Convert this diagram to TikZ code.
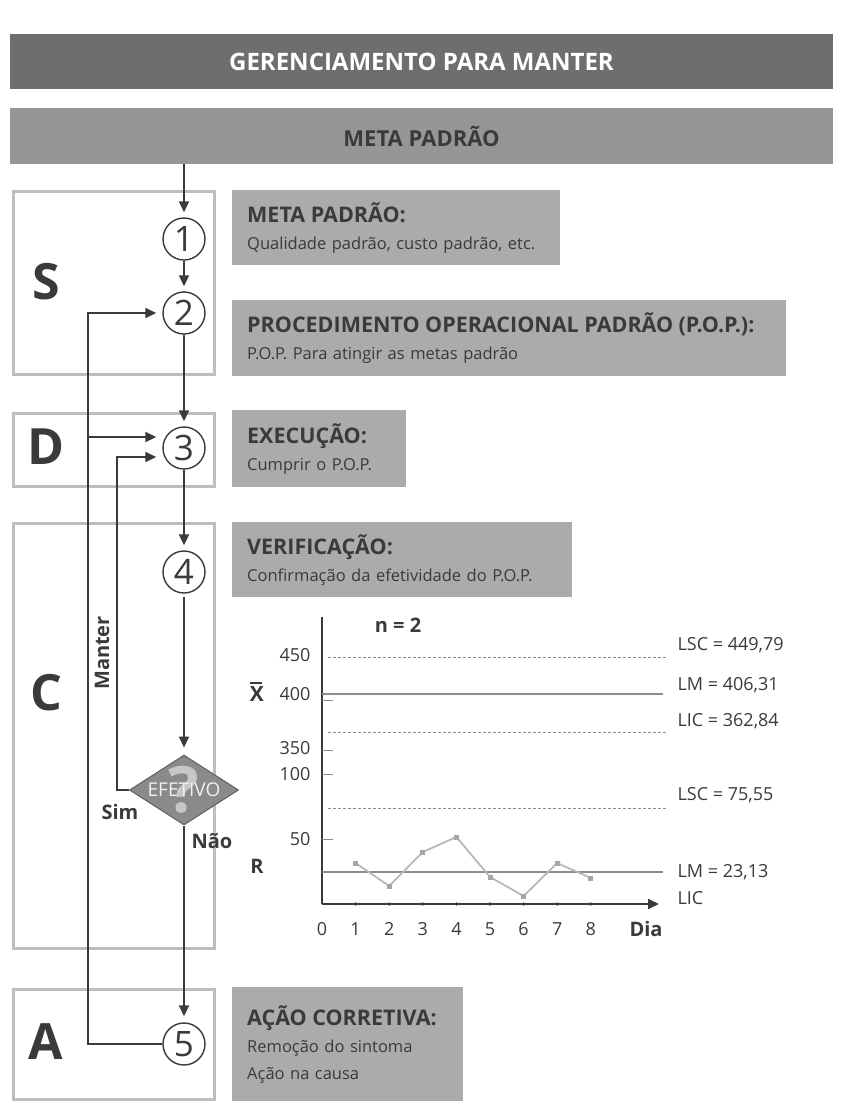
\documentclass[tikz,border=0pt]{standalone}
\usepackage{fontspec}
\setmainfont{Open Sans}
\usetikzlibrary{positioning,arrows.meta,shapes.geometric}
\definecolor{barDark}{HTML}{6E6E6E}
\definecolor{barMid}{HTML}{969696}
\definecolor{infoGray}{HTML}{ABABAB}
\definecolor{diamGray}{HTML}{8A8A8A}
\definecolor{inkDark}{HTML}{3A3A3A}
\definecolor{frameGray}{HTML}{BEBEBE}
\definecolor{limGray}{HTML}{8C8C8C}
\definecolor{dataGray}{HTML}{B8B8B8}
\newcommand{\fsz}[2]{\fontsize{#1}{#2}\selectfont}
\newcommand{\boxhead}[1]{{\bfseries\fsz{21.5}{27}#1}}

\begin{document}
\begin{tikzpicture}[x=1pt,y=-1pt,>={Triangle[length=11pt,width=10pt]},
  flow/.style={draw=inkDark,line width=1.7pt},
  numcirc/.style={circle,draw=inkDark,line width=1.4pt,fill=white,
    minimum size=42pt,inner sep=0pt,text=inkDark,font=\fsz{35}{35}},
  phasebox/.style={draw=frameGray,line width=2.5pt,anchor=north west,
    minimum width=201pt,inner sep=0pt},
  phaseltr/.style={text=inkDark,font=\bfseries\fsz{50}{50}},
  infobox/.style={fill=infoGray,anchor=north west,inner xsep=15pt,
    inner ysep=0pt,align=left,text=inkDark,font=\fsz{16.5}{27}},
  chartlbl/.style={text=inkDark,font=\fsz{18}{18}},
  boldlbl/.style={text=inkDark,font=\bfseries\fsz{20}{20}},
  limdash/.style={draw=limGray,line width=1pt,dash pattern=on 2.5pt off 2.5pt},
  limline/.style={draw=limGray,line width=1.3pt}]
\useasboundingbox (0,0) rectangle (841,1101);
% header bars
\node[fill=barDark,minimum width=823pt,minimum height=55pt,inner sep=0pt,
  text=white,font=\bfseries\fsz{24}{24}] (title) at (421.5,61.5)
  {GERENCIAMENTO PARA MANTER};
\node[fill=barMid,minimum width=823pt,minimum height=56pt,inner sep=0pt,
  text=inkDark,font=\bfseries\fsz{22}{22}] (meta) at (421.5,136)
  {META PADRÃO};
% PDCA phase frames
\node[phasebox,minimum height=183pt] (S) at (12,190) {};
\node[phasebox,minimum height=73pt] (D) at (12,412) {};
\node[phasebox,minimum height=425pt] (C) at (12,522) {};
\node[phasebox,minimum height=110pt] (A) at (12,988) {};
\foreach \ph/\yy in {S/282,D/447,C/693,A/1042}
  \node[phaseltr] (l\ph) at (46,\yy) {\ph};
% steps
\foreach \n/\yy in {1/239,2/313,3/448,4/572,5/1044}
  \node[numcirc] (c\n) at (184,\yy) {\n};
\node[diamond,fill=diamGray,draw=inkDark!80,line width=1pt,
  minimum width=109pt,minimum height=70pt,inner sep=0pt] (ef) at (184,790) {};
\node[text=white!94!black,font=\fsz{19}{19}] (eft) at (184,790)
  {\makebox[0pt]{\raisebox{-16pt}[0pt][0pt]{\color{white!78!black}%
    \bfseries\fsz{64}{64}?}}\makebox[0pt]{EFETIVO}};
% main flow
\draw[flow,->,shorten >=5pt] (meta.south -| c1) -- (c1);
\draw[flow,->,shorten >=5pt] (c1) -- (c2);
\draw[flow,->,shorten >=5pt] (c2) -- (c3);
\draw[flow,->,shorten >=5pt] (c3) -- (c4);
\draw[flow,->,shorten >=7pt,shorten <=3pt] (c4) -- (ef);
\draw[flow,->,shorten >=6pt] (ef) -- (c5);
\node[boldlbl] (nao) at (212,841) {Não};
% corrective action goes back to the standard
\coordinate (ret) at (88,313);
\coordinate (dgo) at (88,437);
\draw[flow,->,shorten >=6pt] (c5) -- (c5 -| ret) -- (ret) -- (c2);
\draw[flow,->,shorten >=6pt] (dgo) -- (dgo -| c3.west);
% effective: keep doing
\coordinate (man) at (117,457);
\draw[flow,->,shorten >=6pt] (ef.west) -- (ef.west -| man) -- (man)
  -- (man -| c3.west);
\node[boldlbl,rotate=90] (manter) at (102,653) {Manter};
\node[boldlbl] (sim) at (120,812) {Sim};
% description boxes
\node[infobox,text width=298pt,minimum height=75pt] (i1) at (232,190)
  {\boxhead{META PADRÃO:}\\Qualidade padrão, custo padrão, etc.};
\node[infobox,text width=524pt,minimum height=76pt] (i2) at (232,300)
  {\boxhead{PROCEDIMENTO OPERACIONAL PADRÃO (P.O.P.):}\\
   P.O.P. Para atingir as metas padrão};
\node[infobox,text width=144pt,minimum height=77pt] (i3) at (232,410)
  {\boxhead{EXECUÇÃO:}\\Cumprir o P.O.P.};
\node[infobox,text width=310pt,minimum height=75pt] (i4) at (232,522)
  {\boxhead{VERIFICAÇÃO:}\\Confirmação da efetividade do P.O.P.};
\node[infobox,text width=201pt,minimum height=114pt] (i5) at (232,987)
  {\boxhead{AÇÃO CORRETIVA:}\\Remoção do sintoma\\Ação na causa};
% control chart (X-bar and R), n = 2
\def\dx{33.6}
\coordinate (O) at (322,904);
\coordinate (ytop) at (322,617);
\coordinate (xend) at (659,904);
\draw[inkDark,line width=1.8pt] (ytop) -- (O);
\draw[inkDark,line width=1.8pt,->] (O) -- (xend);
\foreach \i in {1,...,8}
  \fill[inkDark] (322+\dx*\i,904) circle (1.8pt);
\foreach \i in {0,...,8}
  \node[chartlbl] (xt\i) at (322+\dx*\i,929) {\i};
\node[boldlbl] (dia) at (646,929) {Dia};
\foreach \v/\yy in {450/655,400/694,350/748,100/774,50/839}
  \node[chartlbl,anchor=east] (yl\v) at (314,\yy) {\v};
\foreach \yy in {700,750,774,839}
  \draw[limGray,line width=1pt] (322,\yy) -- (333,\yy);
\node[boldlbl,font=\bfseries\fsz{21}{21}] (xbar) at (257,692)
  {\makebox[0pt][l]{\rule[17.5pt]{12.5pt}{1.6pt}}X};
\node[boldlbl] (rr) at (257,866) {R};
\node[boldlbl] (nn) at (398,625) {n = 2};
% limits
\draw[limdash] (328,657) -- (666,657);
\draw[limline] (322,694) -- (663,694);
\draw[limdash] (328,732) -- (666,732);
\draw[limdash] (328,808) -- (666,808);
\draw[limline] (322,872) -- (663,872);
\foreach \lab/\yy [count=\k] in {{LSC = 449,79}/645,{LM = 406,31}/685,
  {LIC = 362,84}/721,{LSC = 75,55}/795,{LM = 23,13}/872,{LIC}/898}
  \node[chartlbl,anchor=west] (lim\k) at (674,\yy) {\lab};
% amplitude data
\draw[dataGray,line width=1.8pt] plot coordinates {(355.6,863) (389.2,886)
  (422.8,852) (456.4,837) (490,877) (523.6,896) (557.2,863) (590.8,878)};
\foreach \px/\py in {355.6/863,389.2/886,422.8/852,456.4/837,490/877,
  523.6/896,557.2/863,590.8/878}
  \fill[gray!70] (\px-2.5,\py-2.5) rectangle ++(5,5);
\end{tikzpicture}
\end{document}
